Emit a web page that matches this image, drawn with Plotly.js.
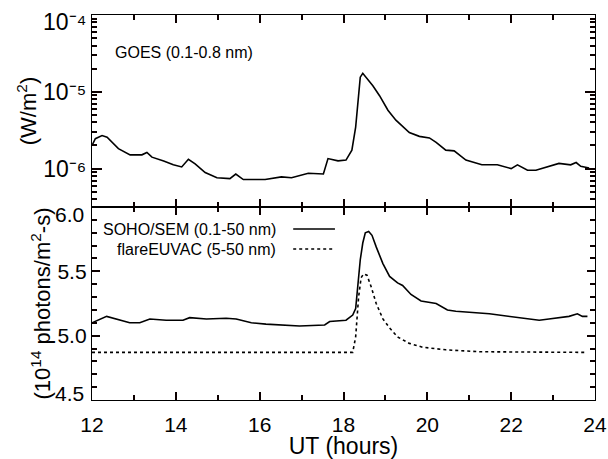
<!DOCTYPE html>
<html>
<head>
<meta charset="utf-8">
<script src="https://cdn.plot.ly/plotly-3.0.1.min.js"></script>
<style>html,body{margin:0;padding:0;background:#fff;}#chart{width:608px;height:459px;}</style>
</head>
<body>
<div id="chart"></div>
<script>
// GOES 0.1-0.8 nm flux (W/m^2)
const goesTime = [12.0,12.08,12.24,12.36,12.63,12.91,13.19,13.31,13.43,13.71,13.94,14.14,14.30,14.46,14.7,14.98,15.29,15.43,15.61,16.13,16.52,16.76,17.16,17.52,17.63,17.87,18.06,18.2,18.29,18.34,18.40,18.46,18.54,18.7,18.86,19.06,19.25,19.57,19.81,20.05,20.21,20.44,20.64,20.92,21.3,21.67,22.0,22.15,22.39,22.59,23.14,23.42,23.55,23.66,23.86];
const goesFlux = [2.00e-6,2.45e-6,2.69e-6,2.57e-6,1.82e-6,1.51e-6,1.51e-6,1.62e-6,1.41e-6,1.26e-6,1.12e-6,1.05e-6,1.32e-6,1.15e-6,8.9e-7,7.6e-7,7.4e-7,8.5e-7,7.2e-7,7.2e-7,7.8e-7,7.6e-7,8.7e-7,8.5e-7,1.35e-6,1.26e-6,1.29e-6,1.74e-6,3.47e-6,7.76e-6,1.55e-5,1.74e-5,1.55e-5,1.20e-5,8.9e-6,5.75e-6,4.27e-6,2.95e-6,2.63e-6,2.51e-6,2.19e-6,1.74e-6,1.70e-6,1.29e-6,1.12e-6,1.12e-6,1.0e-6,1.12e-6,9.5e-7,9.5e-7,1.17e-6,1.12e-6,1.20e-6,1.07e-6,1.02e-6];

// SOHO/SEM 0.1-50 nm (10^14 photons/m^2-s)
const semTime = [12.0,12.35,12.9,13.14,13.38,13.77,14.17,14.33,14.73,15.2,15.44,15.8,16.15,16.95,17.55,17.67,18.06,18.22,18.29,18.34,18.40,18.46,18.52,18.6,18.68,18.78,18.94,19.1,19.29,19.41,19.61,19.85,20.21,20.48,20.68,21.48,22.67,22.9,23.38,23.58,23.7,23.82];
const semFlux = [5.10,5.15,5.10,5.10,5.13,5.12,5.12,5.14,5.13,5.135,5.13,5.10,5.09,5.075,5.083,5.11,5.12,5.16,5.21,5.38,5.59,5.72,5.80,5.81,5.78,5.69,5.56,5.46,5.41,5.39,5.32,5.27,5.25,5.20,5.19,5.17,5.12,5.13,5.15,5.17,5.15,5.15];

// flareEUVAC 5-50 nm
const euvacTime = [12.0,18.22,18.29,18.32,18.36,18.42,18.48,18.56,18.66,18.78,18.94,19.1,19.29,19.57,19.89,20.44,21.24,23.8];
const euvacFlux = [4.87,4.87,4.99,5.12,5.30,5.45,5.48,5.47,5.38,5.25,5.13,5.06,4.99,4.94,4.91,4.89,4.875,4.87];

// tick values and labels
const semTickVals = [4.5, 5.0, 5.5, 6.0];
const semTickText = ['', '5.0', '5.5', ''];
const goesTickVals = [1e-6, 1e-5, 1e-4];
const goesTickText = ['10⁻⁶', '10⁻⁵', ''];
const goesMinorVals = [4e-7,5e-7,6e-7,7e-7,8e-7,9e-7,2e-6,3e-6,4e-6,5e-6,6e-6,7e-6,8e-6,9e-6,2e-5,3e-5,4e-5,5e-5,6e-5,7e-5,8e-5,9e-5];
const edgeLabels = {goesTop: '10⁻⁴', semTop: '6.0', semBottom: '4.5'};

const goesLabel = 'GOES (0.1-0.8 nm)';
const semLabel = 'SOHO/SEM (0.1-50 nm)';
const euvacLabel = 'flareEUVAC (5-50 nm)';

const FONT = 'Liberation Sans, Arial, Helvetica, sans-serif';
const TC = 'rgb(12,0,0)';
const TW = 1.5;

const traces = [
  {x: goesTime, y: goesFlux, xaxis:'x2', yaxis:'y2', mode:'lines', line:{color:'black', width:1.6}, name: goesLabel, showlegend:false},
  {x: semTime, y: semFlux, xaxis:'x', yaxis:'y', mode:'lines', line:{color:'black', width:1.6}, name: semLabel, showlegend:false},
  {x: euvacTime, y: euvacFlux, xaxis:'x', yaxis:'y', mode:'lines', line:{color:'black', width:1.6, dash:'dot'}, name: euvacLabel, showlegend:false}
];

function xAxis(extra) {
  return Object.assign({
    range:[12,24], tickmode:'linear', tick0:12, dtick:2, ticks:'inside', ticklen:8, tickwidth:TW, tickcolor:TC,
    minor:{tick0:12, dtick:1, ticks:'inside', ticklen:5, tickwidth:TW, tickcolor:TC},
    showline:true, linecolor:'black', linewidth:1.4, mirror:'ticks', showgrid:false, zeroline:false,
    tickfont:{family:FONT, size:21, color:'black'}, ticklabelstandoff:6
  }, extra);
}

const layout = {
  width:608, height:459,
  margin:{l:92, r:13, t:15, b:59},
  paper_bgcolor:'white', plot_bgcolor:'white',
  font:{family:FONT, color:'black'},
  showlegend:false,
  xaxis: xAxis({anchor:'y', title:{text:'UT (hours)', font:{family:FONT, size:23}, standoff:6}}),
  xaxis2: xAxis({anchor:'y2', matches:'x', showticklabels:false}),
  yaxis: {
    domain:[0,0.5013], anchor:'x', range:[4.5,6.0], tickmode:'array', tickvals:semTickVals, ticktext:semTickText,
    ticks:'inside', ticklen:8, tickwidth:TW, tickcolor:TC,
    minor:{tick0:4.5, dtick:0.1, ticks:'inside', ticklen:5, tickwidth:TW, tickcolor:TC},
    showline:true, linecolor:'black', linewidth:1.4, mirror:'ticks', showgrid:false, zeroline:false,
    tickfont:{family:FONT, size:21, color:'black'},
    title:{text:'(10<sup>14</sup> photons/m<sup>2</sup>-s)', font:{family:FONT, size:22}, standoff:0}
  },
  yaxis2: {
    domain:[0.5013,1], anchor:'x2', type:'log', range:[-6.5,-4], tickmode:'array', tickvals:goesTickVals, ticktext:goesTickText,
    ticks:'inside', ticklen:10, tickwidth:TW, tickcolor:TC,
    minor:{tickmode:'array', tickvals:goesMinorVals, ticks:'inside', ticklen:5, tickwidth:TW, tickcolor:TC},
    showline:true, linecolor:'black', linewidth:1.4, mirror:'ticks', showgrid:false, zeroline:false,
    tickfont:{family:FONT, size:23, color:'black'},
    title:{text:'(W/m<sup>2</sup>)', font:{family:FONT, size:22}, standoff:0}
  },
  annotations:[
    {text: edgeLabels.goesTop, xref:'x2 domain', yref:'y2 domain', x:0, y:1, xanchor:'right', yanchor:'middle', xshift:-4, yshift:-7, showarrow:false, font:{family:FONT, size:23, color:'black'}},
    {text: edgeLabels.semTop, xref:'x domain', yref:'y domain', x:0, y:1, xanchor:'right', yanchor:'middle', xshift:-6, yshift:-8, showarrow:false, font:{family:FONT, size:21, color:'black'}},
    {text: edgeLabels.semBottom, xref:'x domain', yref:'y domain', x:0, y:0, xanchor:'right', yanchor:'middle', xshift:-6, yshift:7, showarrow:false, font:{family:FONT, size:21, color:'black'}},
    {text: goesLabel, xref:'x2 domain', yref:'y2 domain', x:0.042, y:0.807, xanchor:'left', yanchor:'middle', showarrow:false, font:{family:FONT, size:16, color:'black'}},
    {text: semLabel, xref:'x domain', yref:'y domain', x:0.37, y:0.886, xanchor:'right', yanchor:'middle', showarrow:false, font:{family:FONT, size:16, color:'black'}},
    {text: euvacLabel, xref:'x domain', yref:'y domain', x:0.37, y:0.782, xanchor:'right', yanchor:'middle', showarrow:false, font:{family:FONT, size:16, color:'black'}}
  ],
  shapes:[
    {type:'line', xref:'x domain', yref:'y domain', x0:0.40, x1:0.483, y0:0.886, y1:0.886, line:{color:'black', width:1.5}},
    {type:'line', xref:'x domain', yref:'y domain', x0:0.40, x1:0.483, y0:0.782, y1:0.782, line:{color:'black', width:1.5, dash:'dot'}}
  ]
};

Plotly.newPlot('chart', traces, layout, {displayModeBar:false});
</script>
</body>
</html>
